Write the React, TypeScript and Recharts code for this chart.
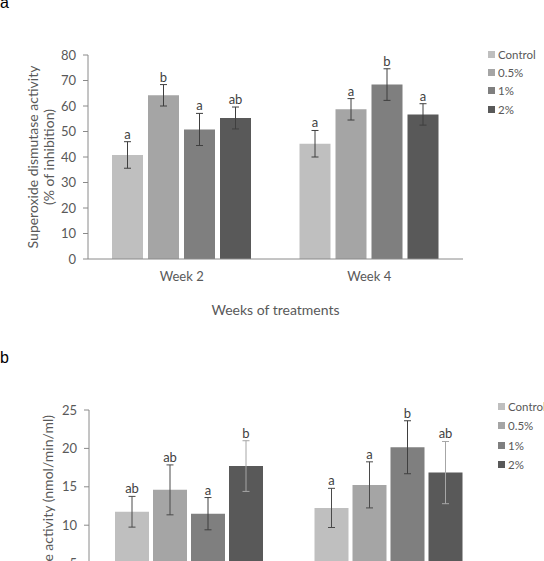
import React from "react";
import { BarChart, Bar, XAxis, YAxis, ErrorBar, LabelList, Legend, Label } from "recharts";

// shared categories / groups
const weeks = ["Week 2", "Week 4"];
const groups = ["Control", "0.5%", "1%", "2%"];
const groupColors = ["#bfbfbf", "#a5a5a5", "#7f7f7f", "#595959"];

// panel a: superoxide dismutase activity (% of inhibition)
const sodControl = [40.8, 45.2];
const sod05 = [64.2, 58.7];
const sod1 = [50.8, 68.4];
const sod2 = [55.3, 56.7];
const sodErrControl = [5.2, 5.2];
const sodErr05 = [4.2, 4.2];
const sodErr1 = [6.3, 6.2];
const sodErr2 = [4.3, 4.2];
const sodLetControl = ["a", "a"];
const sodLet05 = ["b", "a"];
const sodLet1 = ["a", "b"];
const sodLet2 = ["ab", "a"];
const sodTicks = [0, 10, 20, 30, 40, 50, 60, 70, 80];

// panel b: catalase activity (nmol/min/ml)
const catControl = [11.75, 12.25];
const cat05 = [14.6, 15.25];
const cat1 = [11.5, 20.15];
const cat2 = [17.7, 16.85];
const catErrControl = [2.0, 2.55];
const catErr05 = [3.25, 3.0];
const catErr1 = [2.1, 3.45];
const catErr2 = [3.3, 4.05];
const catLetControl = ["ab", "a"];
const catLet05 = ["ab", "a"];
const catLet1 = ["a", "b"];
const catLet2 = ["b", "ab"];
const catTicks = [0, 5, 10, 15, 20, 25];

const FONT = "Lato, 'Open Sans', sans-serif";
const TEXT = "#595959";
const AXIS = "#8a8a8a";

type Series = { values: number[]; errs: number[]; letters: string[] };

function buildRows(series: Series[]) {
  return weeks.map((week, i) => {
    const row: Record<string, any> = { week };
    series.forEach((s, k) => {
      row[`g${k}`] = s.values[i];
      row[`e${k}`] = s.errs[i];
    });
    return row;
  });
}

const sodSeries: Series[] = [
  { values: sodControl, errs: sodErrControl, letters: sodLetControl },
  { values: sod05, errs: sodErr05, letters: sodLet05 },
  { values: sod1, errs: sodErr1, letters: sodLet1 },
  { values: sod2, errs: sodErr2, letters: sodLet2 },
];
const catSeries: Series[] = [
  { values: catControl, errs: catErrControl, letters: catLetControl },
  { values: cat05, errs: catErr05, letters: catLet05 },
  { values: cat1, errs: catErr1, letters: catLet1 },
  { values: cat2, errs: catErr2, letters: catLet2 },
];

// letter above the upper whisker, placed from the bar geometry
const letterContent = (s: Series) => (props: any) => {
  const vb = props.viewBox || props;
  const x = Number(vb.x);
  const y = Number(vb.y);
  const w = Number(vb.width);
  const h = Math.abs(Number(vb.height));
  const idx = props.index ?? 0;
  const v = s.values[idx];
  const top = y - (h * s.errs[idx]) / v;
  return (
    <text x={x + w / 2} y={top - 3} textAnchor="middle" fontSize={13} fontFamily={FONT} fill="#3f3f3f">
      {s.letters[idx]}
    </text>
  );
};

const legendContent = (rowH: number, label: (g: string) => string) => () => (
  <div style={{ fontFamily: FONT, fontSize: 11.5, color: TEXT }}>
    {groups.map((g, i) => (
      <div key={g} style={{ height: rowH, display: "flex", alignItems: "center", whiteSpace: "nowrap" }}>
        <span style={{ width: 7, height: 7, background: groupColors[i], marginRight: 3, display: "inline-block" }} />
        <span>{label(g)}</span>
      </div>
    ))}
  </div>
);

function SodChart() {
  const rows = buildRows(sodSeries);
  return (
    <BarChart width={544} height={330} data={rows} margin={{ top: 55, right: 81, bottom: 41, left: 0 }} barCategoryGap={24} barGap={5}>
      <XAxis
        dataKey="week"
        height={30}
        tickLine={false}
        tickSize={0}
        tickMargin={13}
        axisLine={{ stroke: AXIS }}
        tick={{ fill: TEXT, fontSize: 13, fontFamily: FONT }}
      >
        <Label
          content={(p: any) => {
            const vb = p.viewBox;
            return (
              <text x={vb.x + vb.width / 2} y={vb.y + 56} textAnchor="middle" fontSize={14} fontFamily={FONT} fill={TEXT}>
                Weeks of treatments
              </text>
            );
          }}
        />
      </XAxis>
      <YAxis
        width={88}
        domain={[0, 80]}
        ticks={sodTicks}
        interval={0}
        tickSize={5}
        tickMargin={7}
        axisLine={{ stroke: AXIS }}
        tickLine={{ stroke: AXIS }}
        tick={{ fill: TEXT, fontSize: 13, fontFamily: FONT }}
      >
        <Label
          content={(p: any) => {
            const vb = p.viewBox;
            const cy = vb.y + vb.height / 2;
            return (
              <g fontSize={14} fontFamily={FONT} fill={TEXT}>
                <text x={32} y={cy} transform={`rotate(-90 32 ${cy})`} textAnchor="middle" dominantBaseline="central">
                  Superoxide dismutase activity
                </text>
                <text x={48.5} y={cy} transform={`rotate(-90 48.5 ${cy})`} textAnchor="middle" dominantBaseline="central">
                  (% of inhibition)
                </text>
              </g>
            );
          }}
        />
      </YAxis>
      <Legend
        layout="vertical"
        align="center"
        verticalAlign="middle"
        wrapperStyle={{ left: 488, top: 45, width: 60 }}
        content={legendContent(18.4, (g) => g)}
      />
      {sodSeries.map((s, k) => (
        <Bar key={k} dataKey={`g${k}`} name={groups[k]} fill={groupColors[k]} isAnimationActive={false}>
          <ErrorBar dataKey={`e${k}`} width={3.5} stroke="#3f3f3f" strokeWidth={1} direction="y" />
          <LabelList dataKey={`g${k}`} content={letterContent(s)} />
        </Bar>
      ))}
    </BarChart>
  );
}

function CatChart() {
  const rows = buildRows(catSeries);
  const errColors = ["#4a4a4a", "#4a4a4a", "#3f3f3f", "#a6a6a6"];
  return (
    <BarChart width={544} height={330} data={rows} margin={{ top: 55, right: 56, bottom: 53, left: 0 }} barCategoryGap={26} barGap={4}>
      <XAxis
        dataKey="week"
        height={30}
        tickLine={false}
        tickSize={0}
        tickMargin={13}
        axisLine={{ stroke: AXIS }}
        tick={{ fill: TEXT, fontSize: 13, fontFamily: FONT }}
      />
      <YAxis
        width={89}
        domain={[0, 25]}
        ticks={catTicks}
        interval={0}
        tickSize={5}
        tickMargin={7}
        axisLine={{ stroke: AXIS }}
        tickLine={{ stroke: AXIS }}
        tick={{ fill: TEXT, fontSize: 13, fontFamily: FONT }}
      >
        <Label
          content={(p: any) => {
            const vb = p.viewBox;
            const ty = vb.y + 5;
            return (
              <text x={47} y={ty} transform={`rotate(-90 47 ${ty})`} textAnchor="end" dominantBaseline="central" fontSize={14} fontFamily={FONT} fill={TEXT}>
                Catalase activity (nmol/min/ml)
              </text>
            );
          }}
        />
      </YAxis>
      <Legend
        layout="vertical"
        align="center"
        verticalAlign="middle"
        wrapperStyle={{ left: 498, top: 42, width: 60 }}
        content={legendContent(19.3, (g) => g)}
      />
      {catSeries.map((s, k) => (
        <Bar key={k} dataKey={`g${k}`} name={groups[k]} fill={groupColors[k]} isAnimationActive={false}>
          <ErrorBar dataKey={`e${k}`} width={3.5} stroke={errColors[k]} strokeWidth={1} direction="y" />
          <LabelList dataKey={`g${k}`} content={letterContent(s)} />
        </Bar>
      ))}
    </BarChart>
  );
}

export default function App() {
  return (
    <div style={{ position: "absolute", left: 0, top: 0, width: 544, height: 561, overflow: "hidden", background: "#fff" }}>
      <div style={{ position: "absolute", left: 0, top: -5, fontFamily: "Arial, 'Liberation Sans', sans-serif", fontSize: 16, lineHeight: "16px", color: "#000" }}>a</div>
      <div style={{ position: "absolute", left: 0, top: 350, fontFamily: "Arial, 'Liberation Sans', sans-serif", fontSize: 16, lineHeight: "16px", color: "#000" }}>b</div>
      <div style={{ position: "absolute", left: 0, top: 0 }}>
        <SodChart />
      </div>
      <div style={{ position: "absolute", left: 0, top: 355 }}>
        <CatChart />
      </div>
    </div>
  );
}
